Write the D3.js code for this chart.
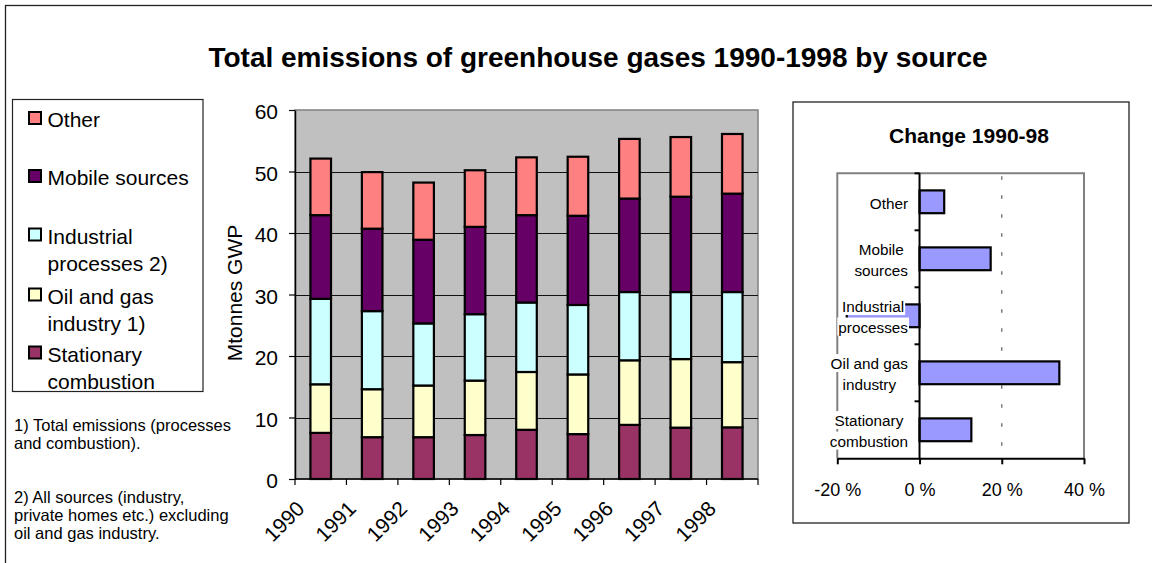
<!DOCTYPE html>
<html>
<head>
<meta charset="utf-8">
<script src="https://cdn.jsdelivr.net/npm/d3@7/dist/d3.min.js"></script>
<style>
  html, body { margin: 0; padding: 0; background: #fff; }
  svg { display: block; font-family: "Liberation Sans", Arial, sans-serif; }
</style>
</head>
<body>
<svg id="chart" width="1152" height="563"></svg>
<script>
// Emissions by source, Mtonnes GWP
const years = ["1990", "1991", "1992", "1993", "1994", "1995", "1996", "1997", "1998"];
const stationary = [7.5, 6.8, 6.8, 7.15, 8.0, 7.3, 8.8, 8.35, 8.4];
const oilGas     = [7.9, 7.8, 8.4, 8.85, 9.4, 9.7, 10.5, 11.15, 10.6];
const industrial = [13.9, 12.7, 10.1, 10.8, 11.3, 11.3, 11.1, 10.9, 11.4];
const mobile     = [13.6, 13.4, 13.6, 14.2, 14.2, 14.5, 15.2, 15.5, 16.0];
const other      = [9.2, 9.2, 9.3, 9.2, 9.4, 9.6, 9.7, 9.7, 9.7];
const yTicks = [0, 10, 20, 30, 40, 50, 60];

// Percentage change 1990-98 per source
const changeCategories = ["Other", "Mobile sources", "Industrial processes", "Oil and gas industry", "Stationary combustion"];
const changeLabelLines = [["Other"], ["Mobile", "sources"], ["Industrial", "processes"], ["Oil and gas", "industry"], ["Stationary", "combustion"]];
const changeValues = [6.0, 17.3, -17.7, 34.0, 12.6];
const changeTicks = [-20, 0, 20, 40];

// Series (bottom to top of the stack) and legend text
const seriesKeys = ["stationary", "oilGas", "industrial", "mobile", "other"];
const seriesColors = { stationary: "#993366", oilGas: "#FFFFCC", industrial: "#CCFFFF", mobile: "#660066", other: "#FF8080" };
const legendKeys = ["other", "mobile", "industrial", "oilGas", "stationary"];
const legendLines = {
  other: ["Other"],
  mobile: ["Mobile sources"],
  industrial: ["Industrial", "processes 2)"],
  oilGas: ["Oil and gas", "industry 1)"],
  stationary: ["Stationary", "combustion"]
};
const footnotes = [
  "1) Total emissions (processes",
  "and combustion).",
  "",
  "",
  "2) All sources (industry,",
  "private homes etc.) excluding",
  "oil and gas industry."
];

const svg = d3.select("#chart");

// outer frame
svg.append("rect").attr("x", 5.5).attr("y", 5.5).attr("width", 1200).attr("height", 600)
  .attr("fill", "none").attr("stroke", "#222").attr("stroke-width", 1.3);

// main title
svg.append("text").attr("x", 598).attr("y", 66.5).attr("text-anchor", "middle")
  .attr("font-size", 28).attr("font-weight", "bold").text("Total emissions of greenhouse gases 1990-1998 by source");

// ---------- stacked bar chart ----------
const plot = { left: 295, right: 758, top: 110, bottom: 479 };
const x = d3.scaleBand().domain(years).range([plot.left, plot.right]).paddingInner(0.6).paddingOuter(0.3);
const xEdge = d3.scaleLinear().domain([0, years.length]).range([plot.left, plot.right]);
const y = d3.scaleLinear().domain([0, 60]).range([plot.bottom, plot.top]);

const rows = years.map((yr, i) => ({
  year: yr, stationary: stationary[i], oilGas: oilGas[i], industrial: industrial[i], mobile: mobile[i], other: other[i]
}));
const stacked = d3.stack().keys(seriesKeys)(rows);

svg.append("rect").attr("x", plot.left).attr("y", plot.top)
  .attr("width", plot.right - plot.left).attr("height", plot.bottom - plot.top)
  .attr("fill", "#C0C0C0").attr("stroke", "#808080").attr("stroke-width", 1.5);

svg.append("g").selectAll("line").data(yTicks.filter(t => t > 0 && t < 60)).join("line")
  .attr("x1", plot.left).attr("x2", plot.right)
  .attr("y1", d => Math.round(y(d)) + 0.5).attr("y2", d => Math.round(y(d)) + 0.5)
  .attr("stroke", "#111").attr("stroke-width", 1);

svg.append("g").selectAll("g").data(stacked).join("g")
  .attr("fill", d => seriesColors[d.key])
  .selectAll("rect").data(d => d).join("rect")
  .attr("x", d => x(d.data.year))
  .attr("width", x.bandwidth())
  .attr("y", d => y(d[1]))
  .attr("height", d => y(d[0]) - y(d[1]))
  .attr("stroke", "#000").attr("stroke-width", 2.2);

// y axis
const yAxis = svg.append("g").attr("transform", `translate(${plot.left},0)`)
  .call(d3.axisLeft(y).tickValues(yTicks).tickSize(6).tickPadding(11).tickSizeOuter(0));
yAxis.select(".domain").attr("stroke", "#000").attr("stroke-width", 1.5);
yAxis.selectAll(".tick line").attr("stroke", "#000").attr("stroke-width", 1.2);
yAxis.selectAll(".tick text").attr("font-size", 21).attr("font-family", "Liberation Sans, Arial, sans-serif")
  .attr("fill", "#000").attr("dy", "0.42em");

// x axis with ticks at category edges
svg.append("line").attr("x1", plot.left).attr("x2", plot.right)
  .attr("y1", plot.bottom).attr("y2", plot.bottom).attr("stroke", "#000").attr("stroke-width", 1.5);
svg.append("g").selectAll("line").data(d3.range(years.length + 1)).join("line")
  .attr("x1", d => xEdge(d)).attr("x2", d => xEdge(d))
  .attr("y1", plot.bottom).attr("y2", plot.bottom + 6)
  .attr("stroke", "#000").attr("stroke-width", 1.2);
svg.append("g").selectAll("text").data(years).join("text")
  .attr("transform", d => `translate(${x(d) + x.bandwidth() / 2 - 15},${510}) rotate(-45)`)
  .attr("text-anchor", "end").attr("font-size", 21).text(d => d);

// y axis title
svg.append("text").attr("transform", "translate(242,293) rotate(-90)")
  .attr("text-anchor", "middle").attr("font-size", 21).text("Mtonnes GWP");

// ---------- legend ----------
svg.append("rect").attr("x", 12.5).attr("y", 99.5).attr("width", 190.5).attr("height", 292)
  .attr("fill", "#fff").attr("stroke", "#222").attr("stroke-width", 1.2);
const legendBaselines = [127, 185, 243.5, 303.5, 361.5];
const legendItems = svg.append("g").selectAll("g").data(legendKeys).join("g");
legendItems.append("rect")
  .attr("x", 29).attr("y", (d, i) => legendBaselines[i] - 15)
  .attr("width", 12).attr("height", 12)
  .attr("fill", d => seriesColors[d]).attr("stroke", "#000").attr("stroke-width", 2);
legendItems.append("text").attr("font-size", 21)
  .selectAll("tspan").data((d, i) => legendLines[d].map((t, j) => ({ t, y: legendBaselines[i] + j * 27.5 })))
  .join("tspan").attr("x", 47.5).attr("y", d => d.y).text(d => d.t);

// footnotes
svg.append("g").selectAll("text").data(footnotes).join("text")
  .attr("x", 14).attr("y", (d, i) => 431 + i * 18)
  .attr("font-size", 16.5).text(d => d);

// ---------- change chart ----------
svg.append("rect").attr("x", 793).attr("y", 102).attr("width", 336).attr("height", 421)
  .attr("fill", "#fff").attr("stroke", "#222").attr("stroke-width", 1.3);
svg.append("text").attr("x", 969).attr("y", 143).attr("text-anchor", "middle")
  .attr("font-size", 21).attr("font-weight", "bold").text("Change 1990-98");

const cp = { left: 837.3, right: 1084, top: 173.3, bottom: 458.3 };
const cx = d3.scaleLinear().domain([-20, 40]).range([cp.left, cp.right]);
const cy = d3.scaleBand().domain(changeCategories).range([cp.top, cp.bottom]).paddingInner(0.6).paddingOuter(0.3);
const cyEdge = d3.scaleLinear().domain([0, changeCategories.length]).range([cp.top, cp.bottom]);

// plot area frame (grey), left/top/right
svg.append("path")
  .attr("d", `M${cp.left},${cp.bottom}V${cp.top}H${cp.right}V${cp.bottom}`)
  .attr("fill", "none").attr("stroke", "#808080").attr("stroke-width", 2);

// dashed gridline at 20 %
svg.append("g").selectAll("line").data(changeTicks.filter(t => t > 0 && t < 40)).join("line")
  .attr("x1", d => cx(d)).attr("x2", d => cx(d))
  .attr("y1", cp.top + 3).attr("y2", cp.bottom)
  .attr("stroke", "#666").attr("stroke-width", 1.3).attr("stroke-dasharray", "3.5,15.5");

// bars
svg.append("g").selectAll("rect").data(changeCategories).join("rect")
  .attr("x", (d, i) => Math.min(cx(0), cx(changeValues[i])))
  .attr("width", (d, i) => Math.abs(cx(changeValues[i]) - cx(0)))
  .attr("y", d => cy(d)).attr("height", cy.bandwidth())
  .attr("fill", "#9999FF").attr("stroke", "#000").attr("stroke-width", 2.2);

// vertical zero axis with ticks at category edges
svg.append("line").attr("x1", cx(0)).attr("x2", cx(0)).attr("y1", cp.top).attr("y2", cp.bottom)
  .attr("stroke", "#000").attr("stroke-width", 2);
svg.append("g").selectAll("line").data(d3.range(changeCategories.length)).join("line")
  .attr("x1", cx(0) - 5).attr("x2", cx(0))
  .attr("y1", d => cyEdge(d)).attr("y2", d => cyEdge(d))
  .attr("stroke", "#000").attr("stroke-width", 2);

// bottom axis
const cAxis = svg.append("g").attr("transform", `translate(0,${cp.bottom})`)
  .call(d3.axisBottom(cx).tickValues(changeTicks).tickSize(6).tickPadding(32).tickSizeOuter(0)
    .tickFormat(d => d + " %"));
cAxis.select(".domain").attr("stroke", "#000").attr("stroke-width", 2);
cAxis.selectAll(".tick line").attr("stroke", "#000").attr("stroke-width", 2);
cAxis.selectAll(".tick text").attr("font-size", 18).attr("font-family", "Liberation Sans, Arial, sans-serif")
  .attr("fill", "#000").attr("dy", "0");

// category labels: block right-aligned, lines centred, white backing
const labelRight = 908;
const labelFont = 15.3;
const lineGap = 20.5;
const labelGroups = svg.append("g").selectAll("g").data(changeCategories).join("g");
labelGroups.each(function (d, i) {
  const g = d3.select(this);
  const lines = changeLabelLines[i];
  const centre = cy(d) + cy.bandwidth() / 2 + 1.5;
  const texts = lines.map((t, j) => {
    const cyLine = centre + (j - (lines.length - 1) / 2) * lineGap;
    return g.append("text").attr("font-size", labelFont).attr("text-anchor", "middle")
      .attr("y", cyLine + labelFont * 0.35).text(t).datum(cyLine);
  });
  const widths = texts.map(t => t.node().getComputedTextLength());
  const maxW = d3.max(widths);
  const mid = labelRight - maxW / 2;
  texts.forEach((t, j) => {
    t.attr("x", mid);
    const cyLine = t.datum();
    g.insert("rect", "text")
      .attr("x", mid - widths[j] / 2 - 1).attr("width", widths[j] + 2)
      .attr("y", cyLine - 10).attr("height", 18)
      .attr("fill", "#fff");
  });
});
</script>
</body>
</html>
